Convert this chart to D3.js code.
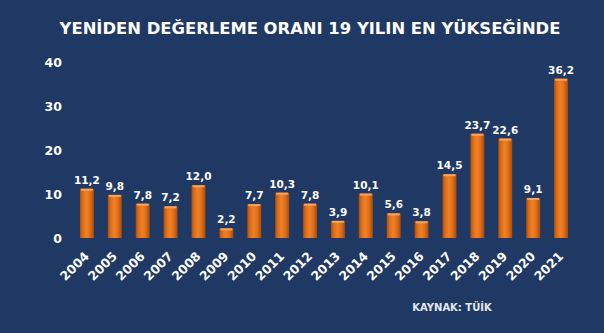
<!DOCTYPE html>
<html>
<head>
<meta charset="utf-8">
<script src="https://cdn.jsdelivr.net/npm/d3@7"></script>
<style>
html,body{margin:0;padding:0;background:#1f3864;}
svg{display:block;}
text{font-family:"DejaVu Sans",Verdana,sans-serif;font-weight:bold;}
</style>
</head>
<body>
<svg id="chart" width="604" height="333"></svg>
<script>
const years = ["2004","2005","2006","2007","2008","2009","2010","2011","2012","2013","2014","2015","2016","2017","2018","2019","2020","2021"];
const values = [11.2,9.8,7.8,7.2,12.0,2.2,7.7,10.3,7.8,3.9,10.1,5.6,3.8,14.5,23.7,22.6,9.1,36.2];
const yTicks = [0,10,20,30,40];
const titleText = "YENİDEN DEĞERLEME ORANI 19 YILIN EN YÜKSEĞİNDE";
const sourceText = "KAYNAK: TÜİK";

const W = 604, H = 333;
const svg = d3.select("#chart");
svg.append("rect").attr("width", W).attr("height", H).attr("fill", "#1f3864");

const defs = svg.append("defs");
const g = defs.append("linearGradient").attr("id", "barGrad").attr("x1", "0%").attr("x2", "100%").attr("y1", "0%").attr("y2", "0%");
[["0%","#a9500c"],["18%","#dc6a14"],["45%","#ef8228"],["70%","#e2701a"],["100%","#a54c0a"]].forEach(([o,c]) =>
  g.append("stop").attr("offset", o).attr("stop-color", c));

const x = d3.scaleBand().domain(years).range([73, 575]).paddingInner(0.5).paddingOuter(0.25);
const y = d3.scaleLinear().domain([0, 40]).range([238, 62]);

// title
svg.append("text").attr("x", 310).attr("y", 34).attr("text-anchor", "middle")
  .attr("fill", "#ffffff").attr("font-size", 16.4).text(titleText);

// y axis
const yAxis = svg.append("g").attr("transform", "translate(66,0)")
  .call(d3.axisLeft(y).tickValues(yTicks).tickSize(0).tickPadding(4).tickFormat(d3.format("d")));
yAxis.select(".domain").remove();
yAxis.selectAll("text").attr("fill", "#ffffff").attr("font-size", 12.5)
  .attr("font-family", "DejaVu Sans, Verdana, sans-serif").attr("font-weight", "bold");

// bars
const bars = svg.append("g");
bars.selectAll("rect.bar").data(years).join("rect").attr("class", "bar")
  .attr("x", d => x(d)).attr("width", x.bandwidth())
  .attr("y", (d, i) => y(values[i])).attr("height", (d, i) => y(0) - y(values[i]))
  .attr("fill", "url(#barGrad)");
bars.selectAll("rect.cap").data(years).join("rect").attr("class", "cap")
  .attr("x", d => x(d) + 1).attr("width", x.bandwidth() - 2)
  .attr("y", (d, i) => y(values[i])).attr("height", 2)
  .attr("fill", "#f6a462");

// value labels
svg.append("g").selectAll("text").data(years).join("text")
  .attr("x", d => x(d) + x.bandwidth() / 2)
  .attr("y", (d, i) => y(values[i]) - 5)
  .attr("text-anchor", "middle").attr("fill", "#ffffff").attr("font-size", 10.5)
  .text((d, i) => d3.format(".1f")(values[i]).replace(".", ","));

// x axis labels
const xAxis = svg.append("g").attr("transform", "translate(0,238)")
  .call(d3.axisBottom(x).tickSize(0).tickPadding(0));
xAxis.select(".domain").remove();
xAxis.selectAll(".tick text")
  .attr("fill", "#ffffff").attr("font-size", 12.5)
  .attr("font-family", "DejaVu Sans, Verdana, sans-serif").attr("font-weight", "bold")
  .attr("text-anchor", "end").attr("dy", null).attr("y", null)
  .attr("transform", "translate(3,19) rotate(-45)");

// source
svg.append("text").attr("x", 452).attr("y", 311).attr("text-anchor", "middle")
  .attr("fill", "#e4e8f0").attr("font-size", 10).text(sourceText);
</script>
</body>
</html>
